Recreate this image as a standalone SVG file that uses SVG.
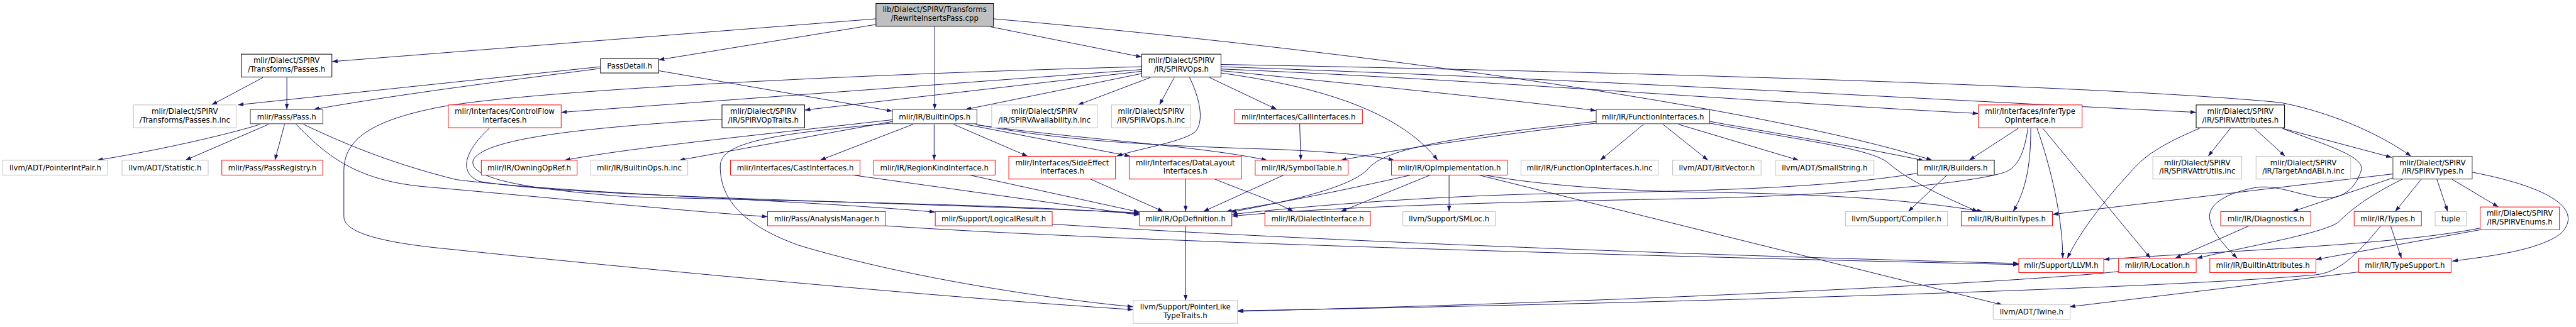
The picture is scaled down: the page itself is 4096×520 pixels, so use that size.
<svg xmlns="http://www.w3.org/2000/svg" width="4096" height="520" viewBox="0 0 4096 520">
<style>
.node rect{fill:#ffffff;stroke-width:1.1}
.blk{stroke:#000000}
.dk{stroke:#404040;stroke-width:1.6}
.red{stroke:#ff0000}
.gry{stroke:#bfbfbf}
.node rect.root{fill:#bfbfbf;stroke:#000000}
.node text{font-family:"DejaVu Sans","Liberation Sans",sans-serif;font-size:13px;text-anchor:middle;fill:#000000}
#edges path{fill:none;stroke:#191970;stroke-width:1.1;marker-end:url(#arr)}
</style>
<defs>
<marker id="arr" markerUnits="userSpaceOnUse" markerWidth="11" markerHeight="8" refX="10" refY="3.5" orient="auto"><path d="M0,0 L10,3.5 L0,7 z" fill="#191970"/></marker>
</defs>
<rect width="4096" height="520" fill="#ffffff"/>
<g transform="scale(0.90679)">
<g id="edges">
<path d="M1536,33 L582,108"/>
<path d="M1536,43 L1155,105"/>
<path d="M1639,46 L1639,192"/>
<path d="M1737,47 L2002,100"/>
<path d="M1742,33 C2400,90 3100,190 3388,281"/>
<path d="M461,136 L371,184"/>
<path d="M503,136 L503,192"/>
<path d="M1053,117 L417,184"/>
<path d="M1053,120 C900,140 700,165 550,192"/>
<path d="M1155,124 L1565,195"/>
<path d="M2002,122 L984,197"/>
<path d="M2002,125 L1411,193"/>
<path d="M2002,129 L1693,192"/>
<path d="M2017,136 L1890,184"/>
<path d="M2059,136 L2033,184"/>
<path d="M2086,136 C2105,175 2112,215 2095,232 C2070,250 1990,262 1958,274"/>
<path d="M2121,136 L2239,192"/>
<path d="M2141,124 C2400,150 2650,175 2799,194"/>
<path d="M2141,128 C2300,150 2450,190 2521,281"/>
<path d="M2141,121 C2600,140 3100,180 3469,199"/>
<path d="M2141,117 C2800,140 3400,175 3851,197"/>
<path d="M2141,113 C2800,125 3700,150 4000,180 C4100,200 4180,240 4228,274"/>
<path d="M2002,117 C1500,130 900,160 760,190 C640,215 603,250 603,300 L603,380 C603,410 680,425 760,434 C1200,480 1700,525 1987,543"/>
<path d="M1565,210 C1300,240 1100,260 990,281"/>
<path d="M1565,213 L1191,281"/>
<path d="M1565,216 C1350,235 1265,250 1263,290 C1262,340 1290,390 1400,430 C1600,490 1850,525 1987,538"/>
<path d="M1601,218 L1438,281"/>
<path d="M1638,218 L1638,281"/>
<path d="M1672,218 L1802,274"/>
<path d="M1693,218 L1982,274"/>
<path d="M1713,219 C1900,245 2100,255 2222,281"/>
<path d="M1710,218 C1850,245 2000,255 2240,262 C2330,266 2400,272 2445,281"/>
<path d="M456,218 C420,230 300,260 170,281"/>
<path d="M471,218 L325,281"/>
<path d="M499,218 L482,281"/>
<path d="M519,218 C570,270 620,315 740,327 C1000,350 1200,370 1346,380"/>
<path d="M532,218 C620,260 700,290 800,315 C1000,340 1400,350 1640,372"/>
<path d="M858,225 C820,260 800,300 840,318 C1000,345 1500,352 1998,373"/>
<path d="M1266,209 C1000,225 850,245 830,280 C820,310 900,330 1100,345 C1500,355 1800,360 1998,375"/>
<path d="M1495,307 L1998,377"/>
<path d="M1700,307 L1998,372"/>
<path d="M1912,314 L2040,371"/>
<path d="M2079,314 L2079,371"/>
<path d="M2130,314 C2180,335 2230,350 2268,371"/>
<path d="M2251,307 L2110,371"/>
<path d="M2474,307 C2350,335 2250,355 2150,371"/>
<path d="M2799,213 C2550,240 2430,260 2400,295 C2370,330 2250,355 2158,372"/>
<path d="M2799,216 C2600,240 2450,262 2351,281"/>
<path d="M3362,304 C3200,330 3000,335 2700,340 C2500,345 2300,360 2160,376"/>
<path d="M3556,225 C3550,265 3540,290 3520,300 C3490,315 3300,340 2980,348 C2600,355 2350,362 2160,379"/>
<path d="M2508,307 L2351,371"/>
<path d="M2541,307 L2541,371"/>
<path d="M2593,307 L3512,535"/>
<path d="M2603,307 C2700,325 2850,335 2980,337 C3200,340 3350,350 3477,371"/>
<path d="M2882,218 L2806,281"/>
<path d="M2916,218 L2995,281"/>
<path d="M2943,218 L3154,281"/>
<path d="M2998,213 C3150,240 3300,265 3374,282"/>
<path d="M2998,216 C3150,245 3280,260 3310,285 C3350,320 3420,350 3468,371"/>
<path d="M2279,217 L2281,281"/>
<path d="M3539,225 L3453,281"/>
<path d="M3561,225 C3561,280 3555,330 3530,371"/>
<path d="M3572,225 C3595,290 3617,380 3617,453"/>
<path d="M3582,225 L3771,453"/>
<path d="M3414,307 L3346,371"/>
<path d="M3857,225 C3810,245 3770,265 3745,292 C3700,340 3650,400 3625,453"/>
<path d="M3911,225 L3872,274"/>
<path d="M3953,225 L4007,274"/>
<path d="M4002,225 L4194,276"/>
<path d="M4004,226 C4080,255 4150,275 4140,300 C4130,330 4110,347 4080,347 C4040,347 3990,320 3950,330 C3900,340 3870,360 3875,385 C3880,410 3905,435 3923,453"/>
<path d="M4196,305 L3599,376"/>
<path d="M4196,312 L4020,371"/>
<path d="M4213,314 C4150,345 4120,370 4100,390 C4070,410 3950,430 3852,453"/>
<path d="M4246,314 L4200,371"/>
<path d="M4273,314 L4292,371"/>
<path d="M4299,314 L4381,363"/>
<path d="M4335,302 C4480,330 4530,370 4490,410 C4450,440 4360,450 4300,458"/>
<path d="M3944,396 L3814,453"/>
<path d="M4192,396 L4211,453"/>
<path d="M4175,396 C4130,450 4100,478 4060,482 C3800,505 3000,530 2170,545"/>
<path d="M3715,476 C3600,490 3000,525 2170,546"/>
<path d="M4136,477 L3629,538"/>
<path d="M4349,400 C4200,430 3900,440 3689,455"/>
<path d="M4349,403 L4061,455"/>
<path d="M1553,396 C1900,420 2700,445 3540,464"/>
<path d="M1845,393 C2100,410 2700,440 3540,462"/>
<path d="M2079,396 L2079,527"/>
</g>
<g id="n1" class="node"><rect class="root" x="1536" y="6" width="206" height="40"/><text x="1639" y="21.5">lib/Dialect/SPIRV/Transforms</text><text x="1639" y="36.5">/RewriteInsertsPass.cpp</text></g>
<g id="n2" class="node"><rect class="blk" x="423" y="95" width="159" height="40"/><text x="502.5" y="110.5">mlir/Dialect/SPIRV</text><text x="502.5" y="125.5">/Transforms/Passes.h</text></g>
<g id="n3" class="node"><rect class="blk" x="1053" y="103" width="102" height="25"/><text x="1104" y="120">PassDetail.h</text></g>
<g id="n4" class="node"><rect class="blk" x="2002" y="95" width="139" height="40"/><text x="2071.5" y="110.5">mlir/Dialect/SPIRV</text><text x="2071.5" y="125.5">/IR/SPIRVOps.h</text></g>
<g id="n5" class="node"><rect class="gry" x="234" y="184" width="180" height="40"/><text x="324" y="199.5">mlir/Dialect/SPIRV</text><text x="324" y="214.5">/Transforms/Passes.h.inc</text></g>
<g id="n6" class="node"><rect class="dk" x="439" y="192" width="127" height="25"/><text x="502.5" y="209">mlir/Pass/Pass.h</text></g>
<g id="n7" class="node"><rect class="red" x="786" y="184" width="198" height="40"/><text x="885" y="199.5">mlir/Interfaces/ControlFlow</text><text x="885" y="214.5">Interfaces.h</text></g>
<g id="n8" class="node"><rect class="blk" x="1266" y="184" width="145" height="40"/><text x="1338.5" y="199.5">mlir/Dialect/SPIRV</text><text x="1338.5" y="214.5">/IR/SPIRVOpTraits.h</text></g>
<g id="n9" class="node"><rect class="dk" x="1565" y="192" width="148" height="25"/><text x="1639" y="209">mlir/IR/BuiltinOps.h</text></g>
<g id="n10" class="node"><rect class="gry" x="1739" y="184" width="185" height="40"/><text x="1831.5" y="199.5">mlir/Dialect/SPIRV</text><text x="1831.5" y="214.5">/IR/SPIRVAvailability.h.inc</text></g>
<g id="n11" class="node"><rect class="gry" x="1949" y="184" width="139" height="40"/><text x="2018.5" y="199.5">mlir/Dialect/SPIRV</text><text x="2018.5" y="214.5">/IR/SPIRVOps.h.inc</text></g>
<g id="n12" class="node"><rect class="red" x="2165" y="192" width="224" height="25"/><text x="2277" y="209">mlir/Interfaces/CallInterfaces.h</text></g>
<g id="n13" class="node"><rect class="dk" x="2799" y="192" width="199" height="25"/><text x="2898.5" y="209">mlir/IR/FunctionInterfaces.h</text></g>
<g id="n14" class="node"><rect class="red" x="3469" y="184" width="182" height="40"/><text x="3560" y="199.5">mlir/Interfaces/InferType</text><text x="3560" y="214.5">OpInterface.h</text></g>
<g id="n15" class="node"><rect class="blk" x="3851" y="184" width="155" height="40"/><text x="3928.5" y="199.5">mlir/Dialect/SPIRV</text><text x="3928.5" y="214.5">/IR/SPIRVAttributes.h</text></g>
<g id="n16" class="node"><rect class="gry" x="5" y="281" width="184" height="26"/><text x="97" y="298.5">llvm/ADT/PointerIntPair.h</text></g>
<g id="n17" class="node"><rect class="gry" x="214" y="281" width="151" height="26"/><text x="289.5" y="298.5">llvm/ADT/Statistic.h</text></g>
<g id="n18" class="node"><rect class="red" x="389" y="281" width="177" height="26"/><text x="477.5" y="298.5">mlir/Pass/PassRegistry.h</text></g>
<g id="n19" class="node"><rect class="red" x="844" y="281" width="168" height="26"/><text x="928" y="298.5">mlir/IR/OwningOpRef.h</text></g>
<g id="n20" class="node"><rect class="gry" x="1036" y="281" width="170" height="26"/><text x="1121" y="298.5">mlir/IR/BuiltinOps.h.inc</text></g>
<g id="n21" class="node"><rect class="red" x="1281" y="281" width="227" height="26"/><text x="1394.5" y="298.5">mlir/Interfaces/CastInterfaces.h</text></g>
<g id="n22" class="node"><rect class="red" x="1532" y="281" width="213" height="26"/><text x="1638.5" y="298.5">mlir/IR/RegionKindInterface.h</text></g>
<g id="n23" class="node"><rect class="red" x="1769" y="274" width="187" height="40"/><text x="1862.5" y="289.5">mlir/Interfaces/SideEffect</text><text x="1862.5" y="304.5">Interfaces.h</text></g>
<g id="n24" class="node"><rect class="red" x="1980" y="274" width="197" height="40"/><text x="2078.5" y="289.5">mlir/Interfaces/DataLayout</text><text x="2078.5" y="304.5">Interfaces.h</text></g>
<g id="n25" class="node"><rect class="red" x="2201" y="281" width="163" height="26"/><text x="2282.5" y="298.5">mlir/IR/SymbolTable.h</text></g>
<g id="n26" class="node"><rect class="red" x="2440" y="281" width="203" height="26"/><text x="2541.5" y="298.5">mlir/IR/OpImplementation.h</text></g>
<g id="n27" class="node"><rect class="gry" x="2667" y="281" width="241" height="26"/><text x="2787.5" y="298.5">mlir/IR/FunctionOpInterfaces.h.inc</text></g>
<g id="n28" class="node"><rect class="gry" x="2933" y="281" width="155" height="26"/><text x="3010.5" y="298.5">llvm/ADT/BitVector.h</text></g>
<g id="n29" class="node"><rect class="gry" x="3113" y="281" width="173" height="26"/><text x="3199.5" y="298.5">llvm/ADT/SmallString.h</text></g>
<g id="n30" class="node"><rect class="blk" x="3362" y="281" width="135" height="26"/><text x="3429.5" y="298.5">mlir/IR/Builders.h</text></g>
<g id="n31" class="node"><rect class="gry" x="3775" y="274" width="156" height="40"/><text x="3853" y="289.5">mlir/Dialect/SPIRV</text><text x="3853" y="304.5">/IR/SPIRVAttrUtils.inc</text></g>
<g id="n32" class="node"><rect class="gry" x="3956" y="274" width="166" height="40"/><text x="4039" y="289.5">mlir/Dialect/SPIRV</text><text x="4039" y="304.5">/IR/TargetAndABI.h.inc</text></g>
<g id="n33" class="node"><rect class="dk" x="4196" y="274" width="139" height="40"/><text x="4265.5" y="289.5">mlir/Dialect/SPIRV</text><text x="4265.5" y="304.5">/IR/SPIRVTypes.h</text></g>
<g id="n34" class="node"><rect class="red" x="1346" y="371" width="207" height="25"/><text x="1449.5" y="388">mlir/Pass/AnalysisManager.h</text></g>
<g id="n35" class="node"><rect class="red" x="1640" y="371" width="205" height="25"/><text x="1742.5" y="388">mlir/Support/LogicalResult.h</text></g>
<g id="n36" class="node"><rect class="red" x="1998" y="371" width="162" height="25"/><text x="2079" y="388">mlir/IR/OpDefinition.h</text></g>
<g id="n37" class="node"><rect class="red" x="2218" y="371" width="185" height="25"/><text x="2310.5" y="388">mlir/IR/DialectInterface.h</text></g>
<g id="n38" class="node"><rect class="gry" x="2460" y="371" width="162" height="25"/><text x="2541" y="388">llvm/Support/SMLoc.h</text></g>
<g id="n39" class="node"><rect class="gry" x="3236" y="371" width="179" height="25"/><text x="3325.5" y="388">llvm/Support/Compiler.h</text></g>
<g id="n40" class="node"><rect class="red" x="3439" y="371" width="160" height="25"/><text x="3519" y="388">mlir/IR/BuiltinTypes.h</text></g>
<g id="n41" class="node"><rect class="red" x="3894" y="371" width="158" height="25"/><text x="3973" y="388">mlir/IR/Diagnostics.h</text></g>
<g id="n42" class="node"><rect class="red" x="4128" y="371" width="118" height="25"/><text x="4187" y="388">mlir/IR/Types.h</text></g>
<g id="n43" class="node"><rect class="gry" x="4270" y="371" width="55" height="25"/><text x="4297.5" y="388">tuple</text></g>
<g id="n44" class="node"><rect class="red" x="4349" y="363" width="139" height="40"/><text x="4418.5" y="378.5">mlir/Dialect/SPIRV</text><text x="4418.5" y="393.5">/IR/SPIRVEnums.h</text></g>
<g id="n45" class="node"><rect class="red" x="3540" y="453" width="149" height="25"/><text x="3614.5" y="470">mlir/Support/LLVM.h</text></g>
<g id="n46" class="node"><rect class="red" x="3715" y="453" width="136" height="25"/><text x="3783" y="470">mlir/IR/Location.h</text></g>
<g id="n47" class="node"><rect class="red" x="3875" y="453" width="186" height="25"/><text x="3968" y="470">mlir/IR/BuiltinAttributes.h</text></g>
<g id="n48" class="node"><rect class="red" x="4136" y="453" width="162" height="25"/><text x="4217" y="470">mlir/IR/TypeSupport.h</text></g>
<g id="n49" class="node"><rect class="gry" x="1987" y="527" width="183" height="40"/><text x="2078.5" y="542.5">llvm/Support/PointerLike</text><text x="2078.5" y="557.5">TypeTraits.h</text></g>
<g id="n50" class="node"><rect class="gry" x="3495" y="534" width="135" height="26"/><text x="3562.5" y="551.5">llvm/ADT/Twine.h</text></g>
</g>
</svg>
